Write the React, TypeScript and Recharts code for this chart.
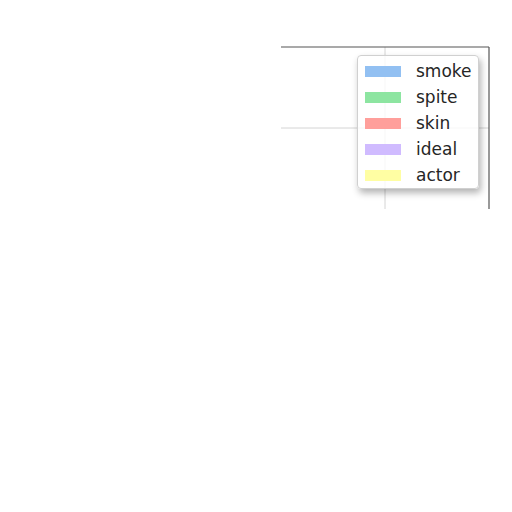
import React from "react";
import { ComposedChart, Bar, XAxis, YAxis, CartesianGrid, Legend, ReferenceLine } from "recharts";

// Series shown in the legend (no bar is visible in the reference picture)
const seriesNames: string[] = ["smoke", "spite", "skin", "ideal", "actor"];
const seriesColors: string[] = ["#92c0f2", "#8de5a1", "#ff9f9b", "#d0bbff", "#fffea3"];

// No bar is visible in the reference: one category, values unknown (null)
const categories: number[] = [1];
const smokeValues: (number | null)[] = [null];
const spiteValues: (number | null)[] = [null];
const skinValues: (number | null)[] = [null];
const idealValues: (number | null)[] = [null];
const actorValues: (number | null)[] = [null];

// Axis domain / grid ticks
const xDomain: [number, number] = [0, 2];
const yDomain: [number, number] = [0, 2];
const xGridTicks: number[] = [1];
const yGridTicks: number[] = [1];

const seriesValues = [smokeValues, spiteValues, skinValues, idealValues, actorValues];
const data = categories.map((c, i) => {
  const row: Record<string, number | null> = { x: c };
  seriesNames.forEach((n, k) => {
    row[n] = seriesValues[k][i];
  });
  return row;
});

const scaleOf = (axis: any, v: number): number => {
  const s = axis && axis.scale;
  if (!s) return NaN;
  if (typeof s === "function") return s(v);
  if (typeof s.map === "function") return s.map(v);
  return NaN;
};

const LegendBox = (props: any) => {
  const payload = [...(props.payload || [])].sort(
    (a: any, b: any) => seriesNames.indexOf(a.value) - seriesNames.indexOf(b.value)
  );
  return (
    <div
      style={{
        background: "rgba(255,255,255,0.8)",
        border: "1px solid #d0d0d0",
        borderRadius: 4,
        boxShadow: "2px 4px 7px rgba(0,0,0,0.3)",
        width: 122,
        height: 134,
        boxSizing: "border-box",
        paddingTop: 2,
      }}
    >
      {payload.map((p: any) => (
        <div key={p.value} style={{ display: "flex", alignItems: "center", height: 26 }}>
          <div style={{ width: 36, height: 11, background: p.color, marginLeft: 7, marginRight: 15 }} />
          <span
            style={{
              fontFamily: "DejaVu Sans",
              fontSize: 17,
              color: "#262626",
              lineHeight: "26px",
            }}
          >
            {p.value}
          </span>
        </div>
      ))}
    </div>
  );
};

export default function App() {
  return (
    <div style={{ width: 512, height: 512, position: "relative" }}>
      <ComposedChart
        width={512}
        height={512}
        data={data}
        margin={{ top: 39, right: 31, bottom: 177, left: 273 }}
      >
        <CartesianGrid
          stroke="#d4d4d4"
          strokeWidth={1}
          horizontalCoordinatesGenerator={(p: any) => yGridTicks.map((t) => scaleOf(p.yAxis, t))}
          verticalCoordinatesGenerator={(p: any) => xGridTicks.map((t) => scaleOf(p.xAxis, t))}
        />
        <XAxis dataKey="x" type="number" domain={xDomain} ticks={xGridTicks} allowDataOverflow hide />
        <YAxis type="number" domain={yDomain} ticks={yGridTicks} allowDataOverflow hide />
        <ReferenceLine y={yDomain[1]} stroke="#555" strokeWidth={1.2} ifOverflow="visible" />
        <ReferenceLine x={xDomain[1]} stroke="#555" strokeWidth={1.2} ifOverflow="visible" />
        {seriesNames.map((n, k) => (
          <Bar key={n} dataKey={n} name={n} fill={seriesColors[k]} isAnimationActive={false} />
        ))}
        <Legend
          content={<LegendBox />}
          wrapperStyle={{ position: "absolute", left: 349, top: 47, width: 122, height: 134 }}
        />
      </ComposedChart>
    </div>
  );
}
